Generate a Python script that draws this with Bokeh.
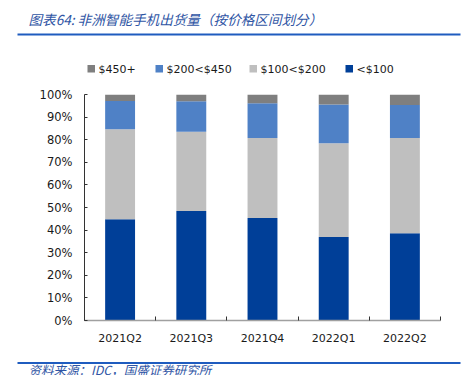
from bokeh.plotting import figure
from bokeh.layouts import column
from bokeh.models import (Range1d, LinearAxis, FixedTicker, PrintfTickFormatter, ColumnDataSource)
from bokeh.core.properties import value
from bokeh.embed import file_html
from bokeh.resources import INLINE

quarters = ["2021Q2", "2021Q3", "2021Q4", "2022Q1", "2022Q2"]
lt100 = [44.8, 48.5, 45.4, 36.9, 38.6]
p100_200 = [39.8, 35.0, 35.3, 41.5, 42.1]
p200_450 = [12.5, 13.5, 15.4, 17.2, 14.6]
p450 = [2.9, 3.0, 3.9, 4.4, 4.7]
series = ["<$100", "$100<$200", "$200<$450", "$450+"]
colors = ["#003f98", "#bfbfbf", "#4f81c6", "#7f7f7f"]
legend_order = ["$450+", "$200<$450", "$100<$200", "<$100"]
y_ticks = [0, 10, 20, 30, 40, 50, 60, 70, 80, 90, 100]
title_text = "图表64:  非洲智能手机出货量（按价格区间划分）"
source_text = "资料来源：IDC，国盛证券研究所"

W = 464
HEAD_H, MAIN_H, FOOT_H = 80, 275, 20
FONT = "DejaVu Sans"
CJK = "Noto Sans CJK SC"
RULE = "#1f5cbf"
NOTE = "#2f55a4"


def blank(h):
    f = figure(width=W, height=h, x_range=Range1d(0, W), y_range=Range1d(h, 0),
               output_backend="svg", toolbar_location=None,
               x_axis_location=None, y_axis_location=None,
               min_border=0, border_fill_color="white", background_fill_color="white",
               frame_align=False)
    f.outline_line_color = None
    f.xgrid.visible = False
    f.ygrid.visible = False
    return f


# header: title, rule, legend
head = blank(HEAD_H)
head.text(x=[28], y=[18], text=[title_text], text_font=value(CJK), text_font_size="13.6px",
          text_font_style="italic", text_color=NOTE, text_baseline="middle")
head.quad(left=[17], right=[460], top=[33], bottom=[35], color=RULE, line_color=None)
leg_x = [87, 155, 249, 345]
leg_cols = [colors[series.index(nm)] for nm in legend_order]
head.quad(left=leg_x, right=[lx + 7.5 for lx in leg_x], top=[64.5] * 4, bottom=[72] * 4,
          color=leg_cols, line_color=None)
head.text(x=[lx + 11 for lx in leg_x], y=[68.5] * 4, text=legend_order, text_font=value(FONT),
          text_font_size="11px", text_color="#1a1a1a", text_baseline="middle")

# main chart
n = len(quarters)
centers = [i + 0.5 for i in range(n)]
bounds = list(range(n + 1))
src = ColumnDataSource(dict(x=centers, a=lt100, b=p100_200, c=p200_450, d=p450))

p = figure(width=W, height=MAIN_H, x_range=Range1d(0, n), y_range=Range1d(0, 100),
           output_backend="svg", toolbar_location=None,
           x_axis_location=None, y_axis_location=None,
           min_border_left=84, min_border_right=24, min_border_top=14,
           min_border_bottom=35, background_fill_color="white",
           border_fill_color="white", frame_align=False)
p.outline_line_color = None
p.xgrid.visible = False
p.ygrid.visible = False

p.vbar_stack(["a", "b", "c", "d"], x="x", width=0.42, color=colors,
             line_color=None, source=src)

ya = LinearAxis(ticker=FixedTicker(ticks=y_ticks),
                formatter=PrintfTickFormatter(format="%d%%"))
ya.axis_line_color = "#333333"
ya.major_tick_in = 3
ya.major_tick_out = 0
ya.major_tick_line_color = "#333333"
ya.minor_tick_line_color = None
ya.major_label_standoff = 12
ya.major_label_text_font = FONT
ya.major_label_text_font_size = "11.5px"
ya.major_label_text_color = "#1a1a1a"
p.add_layout(ya, "left")

xa = LinearAxis(ticker=FixedTicker(ticks=centers, minor_ticks=bounds),
                major_label_overrides={c: q for c, q in zip(centers, quarters)})
xa.axis_line_color = "#a0a0a0"
xa.axis_line_width = 1.5
xa.major_tick_line_color = None
xa.minor_tick_in = 4
xa.minor_tick_out = 0
xa.minor_tick_line_color = "#333333"
xa.major_label_standoff = 5
xa.major_label_text_font = FONT
xa.major_label_text_font_size = "11px"
xa.major_label_text_color = "#1a1a1a"
p.add_layout(xa, "below")

# footer: rule and source
foot = blank(FOOT_H)
foot.quad(left=[17], right=[460], top=[6.5], bottom=[8.5], color=RULE, line_color=None)
foot.text(x=[28], y=[13.5], text=[source_text], text_font=value(CJK), text_font_size="12.5px",
          text_font_style="italic", text_color=NOTE, text_baseline="middle")

layout = column(head, p, foot, spacing=0)
open("out.html", "w").write(file_html(layout, INLINE))
